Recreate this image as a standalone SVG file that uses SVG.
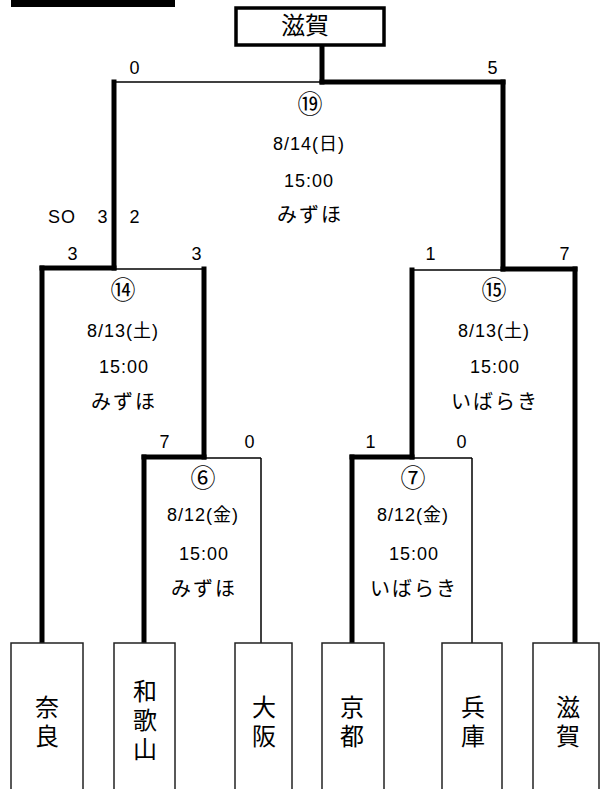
<svg xmlns="http://www.w3.org/2000/svg" width="608" height="789" viewBox="0 0 608 789">
<style>
.thick{stroke:#000;stroke-width:5;fill:none;stroke-linecap:square}
.thin{stroke:#000;stroke-width:1.5;fill:none}
.team{fill:#fff;stroke:#222;stroke-width:1.5}
.t{font-family:"Liberation Sans","Noto Sans CJK JP",sans-serif;font-size:18px;fill:#000;text-anchor:middle;letter-spacing:1px}
.j{font-family:"Noto Sans CJK JP",sans-serif;font-size:25px;fill:#000;text-anchor:middle}
.k{font-family:"Noto Sans CJK JP",sans-serif;font-size:20px;fill:#000;text-anchor:middle;letter-spacing:2px}
.n{font-family:"Noto Sans CJK JP",sans-serif;font-size:24px;fill:#000;text-anchor:middle}
.v{font-family:"Noto Sans CJK JP",sans-serif;font-size:24px;fill:#000;writing-mode:vertical-rl;letter-spacing:5px}
</style>
<rect x="11" y="-5" width="164" height="12" fill="#000"/>
<g id="connectors">
<line class="thick" x1="322" y1="47" x2="322" y2="82"/>
<line class="thin" x1="114" y1="82" x2="322" y2="82"/>
<line class="thick" x1="322" y1="82" x2="503" y2="82"/>
<line class="thick" x1="114" y1="82" x2="114" y2="268"/>
<line class="thick" x1="503" y1="82" x2="503" y2="269"/>
<line class="thick" x1="42" y1="268" x2="114" y2="268"/>
<line class="thin" x1="114" y1="269" x2="204" y2="269"/>
<line class="thick" x1="42" y1="268" x2="42" y2="643"/>
<line class="thick" x1="204" y1="269" x2="204" y2="457"/>
<line class="thick" x1="144" y1="457" x2="204" y2="457"/>
<line class="thin" x1="204" y1="458" x2="261" y2="458"/>
<line class="thick" x1="144" y1="457" x2="144" y2="643"/>
<line class="thin" x1="261" y1="458" x2="261" y2="643"/>
<line class="thin" x1="412" y1="270" x2="503" y2="270"/>
<line class="thick" x1="503" y1="269" x2="575" y2="269"/>
<line class="thick" x1="412" y1="270" x2="412" y2="457"/>
<line class="thick" x1="575" y1="269" x2="575" y2="643"/>
<line class="thick" x1="352" y1="457" x2="412" y2="457"/>
<line class="thin" x1="412" y1="458" x2="472" y2="458"/>
<line class="thick" x1="352" y1="457" x2="352" y2="643"/>
<line class="thin" x1="472" y1="458" x2="472" y2="643"/>
</g>
<g id="winner">
<rect x="236" y="8" width="148" height="37" fill="#fff" stroke="#000" stroke-width="3.5"/>
<text class="n" x="305" y="34">滋賀</text>
</g>
<g id="m19">
<text class="j" x="310" y="113">⑲</text>
<text class="t" x="309" y="150">8/14(日)</text>
<text class="t" x="309" y="187">15:00</text>
<text class="k" x="310" y="222">みずほ</text>
<text class="t" x="135" y="74">0</text>
<text class="t" x="493" y="74">5</text>
<text class="t" x="62" y="223">SO</text>
<text class="t" x="103" y="223">3</text>
<text class="t" x="135" y="223">2</text>
</g>
<g id="m14">
<text class="j" x="123" y="299">⑭</text>
<text class="t" x="123" y="337">8/13(土)</text>
<text class="t" x="124" y="373">15:00</text>
<text class="k" x="124" y="409">みずほ</text>
<text class="t" x="73" y="260">3</text>
<text class="t" x="197" y="260">3</text>
</g>
<g id="m15">
<text class="j" x="494" y="299">⑮</text>
<text class="t" x="494" y="337">8/13(土)</text>
<text class="t" x="495" y="373">15:00</text>
<text class="k" x="495" y="409">いばらき</text>
<text class="t" x="431" y="260">1</text>
<text class="t" x="565" y="260">7</text>
</g>
<g id="m6">
<text class="j" x="203" y="487">⑥</text>
<text class="t" x="203" y="521">8/12(金)</text>
<text class="t" x="204" y="560">15:00</text>
<text class="k" x="204" y="596">みずほ</text>
<text class="t" x="165" y="448">7</text>
<text class="t" x="250" y="448">0</text>
</g>
<g id="m7">
<text class="j" x="413" y="487">⑦</text>
<text class="t" x="413" y="521">8/12(金)</text>
<text class="t" x="414" y="560">15:00</text>
<text class="k" x="414" y="596">いばらき</text>
<text class="t" x="371" y="448">1</text>
<text class="t" x="462" y="448">0</text>
</g>
<g id="nara">
<rect class="team" x="11" y="643" width="72" height="160"/>
<text class="v" x="47" y="695">奈良</text>
</g>
<g id="wakayama">
<rect class="team" x="114" y="643" width="61" height="160"/>
<text class="v" x="145" y="679">和歌山</text>
</g>
<g id="osaka">
<rect class="team" x="235" y="643" width="57" height="160"/>
<text class="v" x="264" y="695">大阪</text>
</g>
<g id="kyoto">
<rect class="team" x="322" y="643" width="62" height="160"/>
<text class="v" x="352" y="695">京都</text>
</g>
<g id="hyogo">
<rect class="team" x="442" y="643" width="60" height="160"/>
<text class="v" x="473" y="695">兵庫</text>
</g>
<g id="shiga">
<rect class="team" x="533" y="643" width="66" height="160"/>
<text class="v" x="568" y="695">滋賀</text>
</g>
</svg>
